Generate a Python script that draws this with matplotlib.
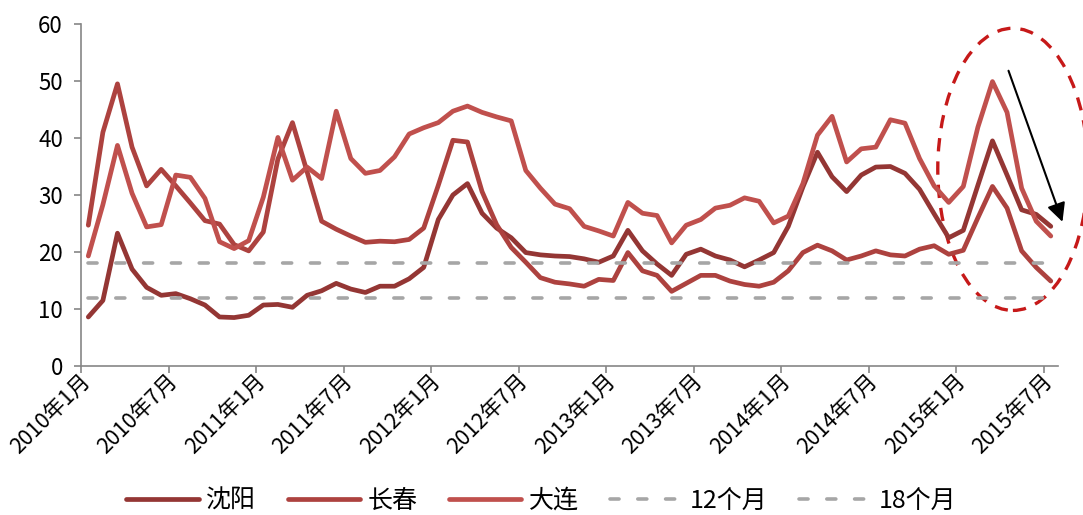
import matplotlib
matplotlib.use("Agg")
import matplotlib.pyplot as plt
from matplotlib.patches import Ellipse
from matplotlib.transforms import ScaledTranslation
import numpy as np

plt.rcParams['font.family'] = ['Noto Sans CJK SC', 'DejaVu Sans']

# ---- data (monthly, 2010年1月 .. 2015年7月) ----
shenyang = [8.6, 11.5, 23.3, 17.0, 13.8, 12.4, 12.7, 11.8, 10.7, 8.6, 8.5, 8.9,
            10.7, 10.8, 10.3, 12.4, 13.2, 14.5, 13.5, 12.9, 14.0, 14.0, 15.3, 17.3,
            25.7, 30.0, 32.0, 26.8, 24.2, 22.5, 19.9, 19.5, 19.3, 19.2, 18.8, 18.2,
            19.3, 23.8, 20.2, 17.9, 15.9, 19.6, 20.5, 19.3, 18.6, 17.4, 18.6, 19.9,
            24.5, 31.4, 37.5, 33.2, 30.6, 33.5, 34.9, 35.0, 33.8, 31.0, 26.7, 22.5,
            23.8, 31.7, 39.5, 33.5, 27.4, 26.6, 24.5]
changchun = [24.7, 41.0, 49.5, 38.4, 31.6, 34.5, 31.6, 28.6, 25.5, 24.9, 21.3, 20.2,
             23.5, 36.3, 42.7, 34.1, 25.4, 24.0, 22.8, 21.7, 21.9, 21.8, 22.2, 24.2,
             31.7, 39.6, 39.3, 30.6, 24.8, 20.8, 18.2, 15.5, 14.7, 14.4, 14.0, 15.2,
             15.0, 19.9, 16.7, 15.9, 13.1, 14.5, 15.9, 15.9, 14.9, 14.3, 14.0, 14.7,
             16.7, 19.9, 21.2, 20.2, 18.6, 19.3, 20.2, 19.5, 19.3, 20.5, 21.1, 19.6,
             20.3, 26.0, 31.5, 27.7, 20.2, 17.3, 14.9]
dalian = [19.3, 28.3, 38.7, 30.3, 24.4, 24.8, 33.5, 33.1, 29.4, 21.8, 20.6, 22.0,
          29.6, 40.1, 32.6, 34.9, 32.9, 44.7, 36.4, 33.8, 34.3, 36.7, 40.7, 41.8,
          42.7, 44.7, 45.6, 44.5, 43.7, 43.0, 34.3, 31.2, 28.4, 27.6, 24.5, 23.7,
          22.8, 28.7, 26.8, 26.4, 21.6, 24.7, 25.7, 27.7, 28.2, 29.5, 28.9, 25.1,
          26.3, 32.0, 40.5, 43.8, 35.8, 38.1, 38.4, 43.2, 42.6, 36.4, 31.6, 28.7,
          31.5, 41.9, 49.9, 44.5, 31.2, 25.4, 22.8]
ref_12 = 12
ref_18 = 18
tick_labels = ['2010年1月', '2010年7月', '2011年1月', '2011年7月', '2012年1月', '2012年7月',
               '2013年1月', '2013年7月', '2014年1月', '2014年7月', '2015年1月', '2015年7月']
series_names = ['沈阳', '长春', '大连', '12个月', '18个月']

n = len(shenyang)
x = np.arange(n)

fig = plt.figure(figsize=(10.83, 5.15), dpi=100)
ax = fig.add_axes([0.0748, 0.2893, 0.9022, 0.6641])

c_sy = '#943634'
c_cc = '#AD423F'
c_dl = '#C0504D'
lw = 3.4
kw = dict(solid_joinstyle='round', solid_capstyle='round')
ax.plot(x, shenyang, color=c_sy, lw=lw, label=series_names[0], **kw)
ax.plot(x, changchun, color=c_cc, lw=lw, label=series_names[1], **kw)
ax.plot(x, dalian, color=c_dl, lw=lw, label=series_names[2], **kw)
dash_kw = dict(color='#A6A6A6', lw=2.6, ls=(0, (2.5, 5.2)), dash_capstyle='round')
ax.plot(x, [ref_12] * n, label=series_names[3], **dash_kw)
ax.plot(x, [ref_18] * n, label=series_names[4], **dash_kw)

ax.set_xlim(-0.5, n - 0.5)
ax.set_ylim(0, 60)
ax.set_yticks(np.arange(0, 61, 10))
ax.tick_params(axis='y', labelsize=16, length=5, width=1.2, color='#868686', pad=8)

major = np.arange(0, n, 6)
ax.set_xticks(major)
ax.set_xticklabels(tick_labels, rotation=45, ha='right', va='top', fontsize=15.5)
ax.set_xticks(np.arange(-0.5, n, 6), minor=True)
ax.tick_params(axis='x', which='major', length=0, pad=3)
ax.tick_params(axis='x', which='minor', length=5, width=1.2, color='#868686')
off = ScaledTranslation(6 / 100, 0, fig.dpi_scale_trans)
for lab in ax.get_xticklabels():
    lab.set_transform(lab.get_transform() + off)

for s in ['top', 'right']:
    ax.spines[s].set_visible(False)
for s in ['left', 'bottom']:
    ax.spines[s].set_color('#868686')
    ax.spines[s].set_linewidth(1.2)

# highlight ellipse and arrow
ell = Ellipse((63.4, 34.5), width=10.3, height=49.5, fill=False,
              edgecolor='#C00000', lw=2.4, ls=(0, (4, 3)), clip_on=False, alpha=0.9)
ax.add_patch(ell)
ax.annotate('', xy=(66.8, 25.3), xytext=(63.1, 51.8),
            arrowprops=dict(arrowstyle='-|>', color='black', lw=1.5,
                            mutation_scale=28, shrinkA=0, shrinkB=0),
            annotation_clip=False)

fig.legend(loc='center', bbox_to_anchor=(0.5, 0.028), ncol=5, frameon=False,
           fontsize=18, handlelength=2.9, handletextpad=0.3, columnspacing=1.25)

fig.savefig('out.png', dpi=100)
